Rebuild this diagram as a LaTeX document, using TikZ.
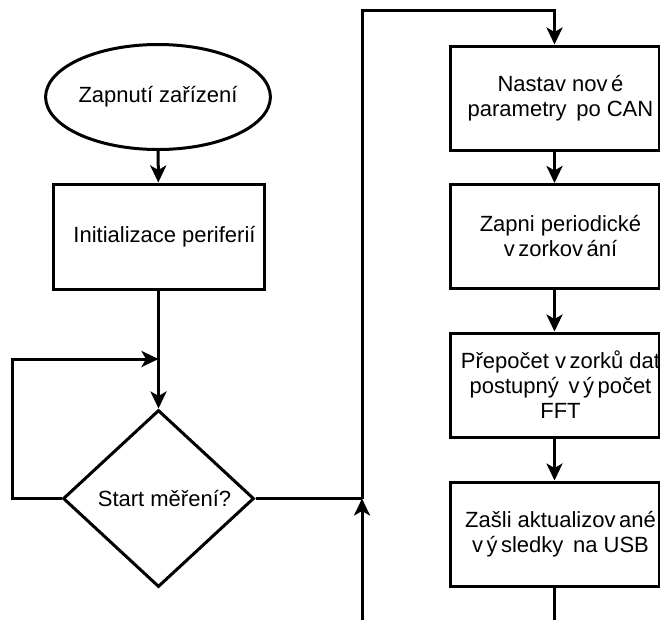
\documentclass[tikz,border=0pt]{standalone}
\usepackage{fontspec}
\setmainfont{Liberation Sans}
\usetikzlibrary{calc,shapes.geometric,arrows.meta}

\newcommand{\gp}{\kern3.5pt}

\tikzset{
  blok/.style={draw, rectangle, minimum width=211pt, minimum height=105pt, inner sep=2pt, align=center},
  arr/.style={-{Stealth[length=17pt,width=16pt,inset=4.5pt]}}
}

\begin{document}
\begin{tikzpicture}[x=1pt, y=-1pt, line width=3pt, font=\fontsize{22}{25}\selectfont]
    \fill[white] (0,0) rectangle (660,619);
    \clip (0,0) rectangle (660,619);
    % levy sloupec
    \node[draw, ellipse, minimum width=219pt, minimum height=105pt, inner sep=0pt] (zap) at (158,97) {Zapnutí zařízení};
    \node[blok] (init) at (158.5,236.5) {\hspace*{12pt}Initializace periferií};
    \node[draw, diamond, minimum width=191pt, minimum height=177pt, inner sep=0pt] (start) at (158.5,498.5) {\hspace*{12pt}Start měření?};
    \coordinate (mrg) at (158.5,359);
    \coordinate (jn) at (362,498.5);
    % pravy sloupec
    \foreach \i/\yy/\txt in {1/98/{Nastav nov\gp é\\parametry\gp{} po CAN},
                            2/236.5/{Zapni periodické\\v\gp zorkov\gp ání},
                            3/385/{Přepočet v\gp zorků dat\\postupný\gp{} v\gp ý\gp počet\\FFT},
                            4/534/{Zašli aktualizov\gp ané\\v\gp ý\gp sledky\gp{} na USB}}{
      \node[blok, minimum width=209pt, minimum height=104pt,
            label={[xshift=6pt, align=center]center:\txt}] (r\i) at (554.5,\yy) {};
    }
    \draw[arr] (zap) -- (init);
    \draw (init) -- (mrg);
    \draw[arr] (mrg) -- (start);
    \draw[arr] (start.west) -- ++(-49,0) |- (mrg);
    \draw (start.east) -- (jn);
    \draw[arr] (jn) -- ++(0,-488) -| (r1.north);
    \foreach \i/\j in {1/2,2/3,3/4}{
      \draw[arr] (r\i) -- (r\j);
    }
    \draw[arr] (r4.south) -- ++(0,60) -| (jn);
\end{tikzpicture}
\end{document}
